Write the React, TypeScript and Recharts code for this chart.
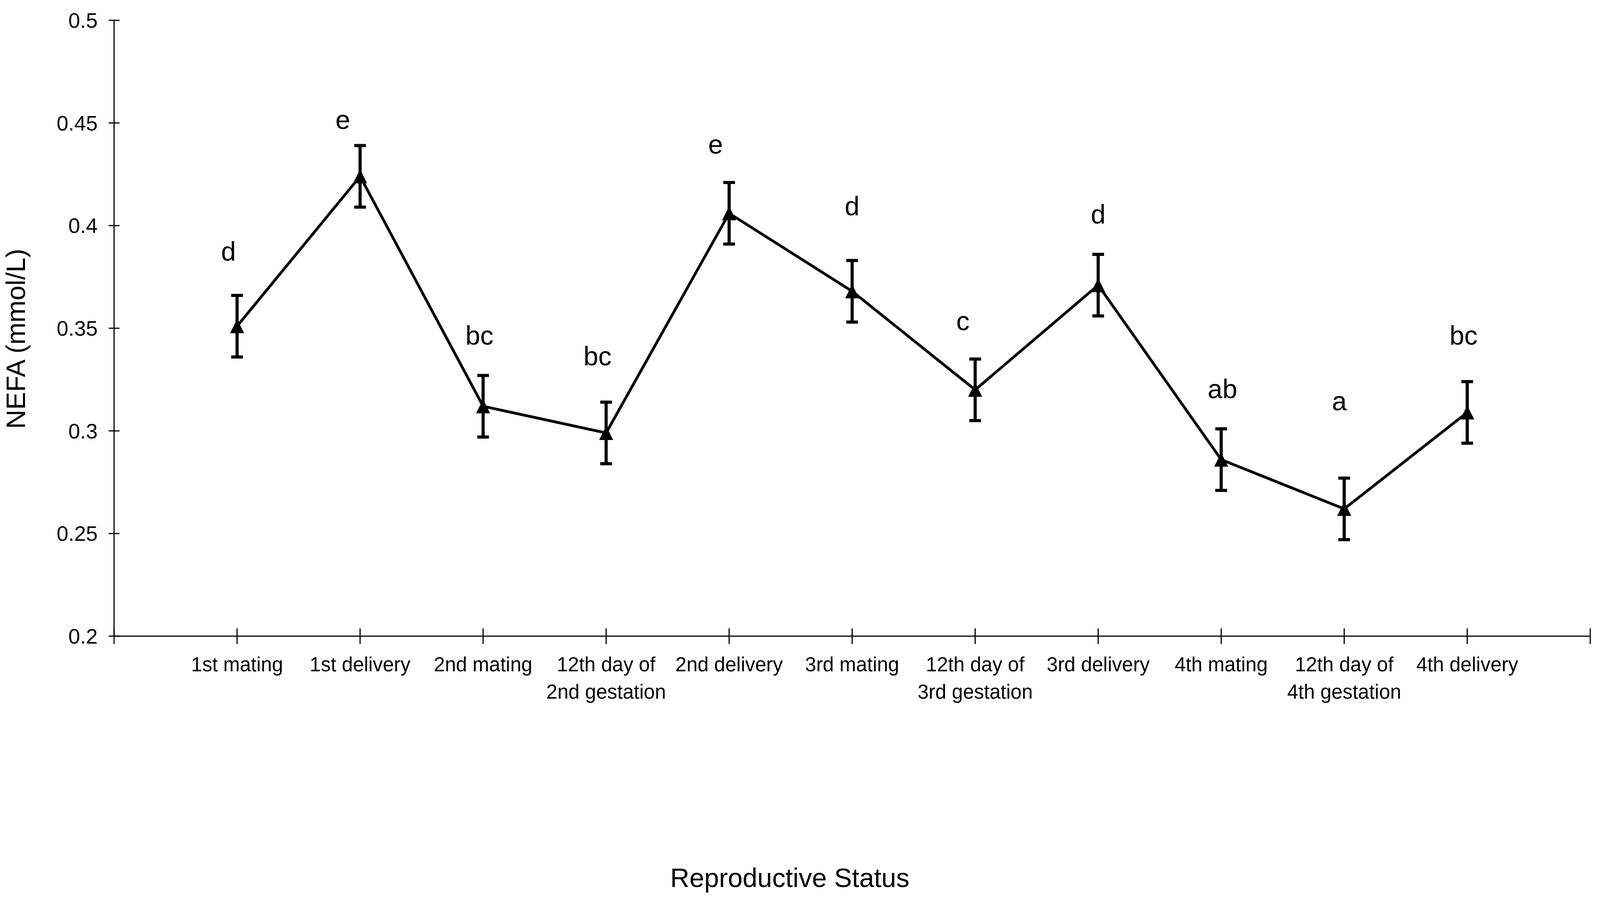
import React from "react";
import { ComposedChart, Line, Scatter, XAxis, YAxis, ErrorBar } from "recharts";

// Reproductive status categories (x positions 1..11 on a 0..12 axis)
const categories = [
  "1st mating",
  "1st delivery",
  "2nd mating",
  "12th day of\n2nd gestation",
  "2nd delivery",
  "3rd mating",
  "12th day of\n3rd gestation",
  "3rd delivery",
  "4th mating",
  "12th day of\n4th gestation",
  "4th delivery",
];

// NEFA means (mmol/L) and standard errors
const nefaMeans = [0.351, 0.424, 0.312, 0.299, 0.406, 0.368, 0.32, 0.371, 0.286, 0.262, 0.309];
const nefaErrors = [0.015, 0.015, 0.015, 0.015, 0.015, 0.015, 0.015, 0.015, 0.015, 0.015, 0.015];

// significance letters and where they sit (x in category units, y = text baseline value)
const sigLetters = ["d", "e", "bc", "bc", "e", "d", "c", "d", "ab", "a", "bc"];
const letterX = [0.93, 1.86, 2.97, 3.93, 4.89, 6.0, 6.9, 8.0, 9.01, 9.96, 10.97];
const letterY = [0.383, 0.447, 0.342, 0.332, 0.435, 0.405, 0.349, 0.401, 0.316, 0.31, 0.342];

const yTicks = [0.2, 0.25, 0.3, 0.35, 0.4, 0.45, 0.5];
const xTicks = [0, 1, 2, 3, 4, 5, 6, 7, 8, 9, 10, 11, 12];

const FONT = "'Liberation Sans', Arial, sans-serif";

// the browser window is 4096 wide, so the chart fills 4096x2316
const W = 4096;
const H = 2316;

const data = categories.map((name, i) => ({
  x: i + 1,
  name,
  mean: nefaMeans[i],
  err: nefaErrors[i],
}));

const letterData = sigLetters.map((text, i) => ({
  x: letterX[i],
  y: letterY[i],
  text,
}));

function XTick(props: any) {
  const { x, y, payload } = props;
  const label = categories[payload.value - 1];
  const lines = label ? label.split("\n") : [];
  return (
    <g>
      <line x1={x} x2={x} y1={y - 20} y2={y + 20} stroke="#000" strokeWidth={3} />
      {lines.map((t, i) => (
        <text
          key={i}
          x={x}
          y={y + 90 + i * 70}
          textAnchor="middle"
          fontSize={51}
          fontFamily={FONT}
          fill="#000"
        >
          {t}
        </text>
      ))}
    </g>
  );
}

function YTick(props: any) {
  const { x, y, payload } = props;
  return (
    <g>
      <line x1={x - 14} x2={x + 14} y1={y} y2={y} stroke="#000" strokeWidth={3} />
      <text
        x={x - 42}
        y={y + 19}
        textAnchor="end"
        fontSize={54}
        fontFamily={FONT}
        fill="#000"
      >
        {String(Number(payload.value.toFixed(2)))}
      </text>
    </g>
  );
}

function TriangleDot(props: any) {
  const { cx, cy, index } = props;
  if (cx == null || cy == null) return <g key={index} />;
  const w = 18;
  const h = 18;
  return (
    <polygon
      key={index}
      points={`${cx},${cy - h} ${cx - w},${cy + h} ${cx + w},${cy + h}`}
      fill="#000"
    />
  );
}

function LetterShape(props: any) {
  const { cx, cy, payload } = props;
  return (
    <text x={cx} y={cy} textAnchor="middle" fontSize={68} fontFamily={FONT} fill="#000">
      {payload.text}
    </text>
  );
}

export default function App() {
  return (
    <div style={{ width: W, height: H, background: "#fff" }}>
      <style>{"body{margin:0;background:#fff}"}</style>
      <ComposedChart
        width={W}
        height={H}
        data={data}
        margin={{ top: 52, right: 25, left: 192, bottom: 588 }}
      >
        <XAxis
          dataKey="x"
          type="number"
          domain={[0, 12]}
          ticks={xTicks}
          interval={0}
          tickSize={0}
          tickMargin={0}
          tickLine={false}
          axisLine={{ stroke: "#000", strokeWidth: 3 }}
          tick={(p: any) => <XTick {...p} />}
          height={100}
        />
        <YAxis
          type="number"
          domain={[0.2, 0.5]}
          ticks={yTicks}
          interval={0}
          tickSize={0}
          tickMargin={0}
          tickLine={false}
          axisLine={{ stroke: "#000", strokeWidth: 3 }}
          tick={(p: any) => <YTick {...p} />}
          width={100}
        />
        <Line
          dataKey="mean"
          type="linear"
          stroke="#000"
          strokeWidth={7}
          dot={(p: any) => <TriangleDot key={p.index} {...p} />}
          activeDot={false}
          isAnimationActive={false}
        >
          <ErrorBar dataKey="err" width={15} strokeWidth={8} stroke="#000" isAnimationActive={false} />
        </Line>
        <Scatter
          data={letterData}
          dataKey="y"
          shape={(p: any) => <LetterShape {...p} />}
          isAnimationActive={false}
        />
        <text
          x={64}
          y={867}
          transform="rotate(-90, 64, 867)"
          textAnchor="middle"
          fontSize={68}
          fontFamily={FONT}
          fill="#000"
        >
          NEFA (mmol/L)
        </text>
        <text x={2022} y={2270} textAnchor="middle" fontSize={68} fontFamily={FONT} fill="#000">
          Reproductive Status
        </text>
      </ComposedChart>
    </div>
  );
}
